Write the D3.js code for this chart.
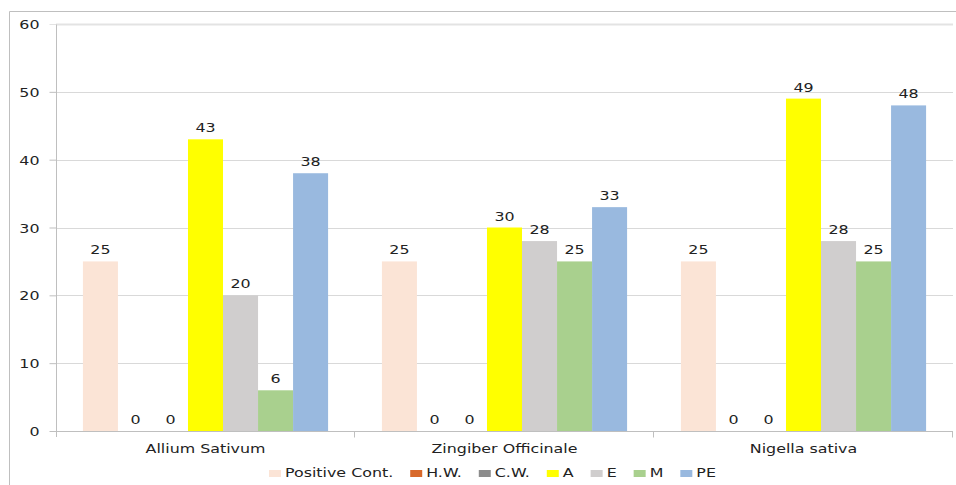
<!DOCTYPE html>
<html>
<head>
<meta charset="utf-8">
<script src="https://cdn.jsdelivr.net/npm/d3@7"></script>
<style>
  body { margin: 0; background: #fff; }
  svg { display: block; font-family: 'DejaVu Sans', Verdana, sans-serif; }
</style>
</head>
<body>
<svg id="chart" width="956" height="485"></svg>
<script>
// chart data
const categories = ['Allium Sativum', 'Zingiber Officinale', 'Nigella sativa'];
const seriesNames = ['Positive Cont.', 'H.W.', 'C.W.', 'A', 'E', 'M', 'PE'];
const seriesColors = ['#fbe4d6', '#d8692b', '#8c8c8c', '#ffff00', '#d0cece', '#a9d08e', '#99b9df'];
const values = [
  [25, 0, 0, 43, 20, 6, 38],  // Allium Sativum
  [25, 0, 0, 30, 28, 25, 33], // Zingiber Officinale
  [25, 0, 0, 49, 28, 25, 48]  // Nigella sativa
];
const yTicks = [0, 10, 20, 30, 40, 50, 60];

const width = 956;
const height = 485;
const margin = { top: 24, right: 3, bottom: 54, left: 56 };
const fontSize = 12.5;
const stretchX = 1.27; // the original picture is horizontally stretched

const svg = d3.select('#chart');

// turn x/y text placement into a translate + horizontal stretch
function stretchText() {
  const t = d3.select(this);
  const x = +t.attr('x') || 0;
  const y = +t.attr('y') || 0;
  t.attr('x', null).attr('y', null)
    .attr('transform', `translate(${x},${y}) scale(${stretchX},1)`);
}

// outer chart frame (top + left edges visible)
svg.append('path')
  .attr('d', `M9.5,${height} V11.5 H${width}`)
  .attr('fill', 'none')
  .attr('stroke', '#bfbfbf')
  .attr('stroke-width', 1);

const x0 = d3.scaleBand()
  .domain(categories)
  .range([margin.left, width - margin.right]);

const groupPad = x0.bandwidth() * 0.09;
const x1 = d3.scaleBand()
  .domain(seriesNames)
  .range([groupPad, x0.bandwidth() - groupPad]);

const y = d3.scaleLinear()
  .domain([0, 60])
  .range([height - margin.bottom, margin.top]);

const color = d3.scaleOrdinal(seriesNames, seriesColors);

// gridlines
svg.append('g')
  .attr('class', 'grid')
  .selectAll('line')
  .data(yTicks.filter((t) => t > 0))
  .join('line')
  .attr('x1', margin.left)
  .attr('x2', width - margin.right)
  .attr('y1', (d) => Math.round(y(d)) + 0.5)
  .attr('y2', (d) => Math.round(y(d)) + 0.5)
  .attr('stroke', (d) => (d === 60 ? '#e3e3e3' : '#d9d9d9'))
  .attr('stroke-width', (d) => (d === 60 ? 2 : 1));

// y axis
const yAxis = svg.append('g')
  .attr('transform', `translate(${margin.left + 0.5},0)`)
  .call(d3.axisLeft(y).tickValues(yTicks).tickSize(7).tickPadding(9));
yAxis.select('.domain').attr('stroke', '#bfbfbf').attr('d', `M0,${y(60)}V${y(0) + 6}`);
yAxis.selectAll('.tick line').attr('stroke', '#bfbfbf');
yAxis.selectAll('.tick').filter((d) => d === 60).select('line').attr('stroke', '#e3e3e3');
yAxis.selectAll('.tick text')
  .attr('fill', '#222')
  .attr('font-size', fontSize)
  .attr('font-family', 'DejaVu Sans, Verdana, sans-serif')
  .attr('x', -17)
  .attr('dy', null)
  .attr('y', 4.5)
  .each(stretchText);

// bars
const groups = svg.append('g')
  .attr('class', 'bars')
  .selectAll('g')
  .data(categories)
  .join('g')
  .attr('transform', (d) => `translate(${x0(d)},0)`);

groups.selectAll('rect')
  .data((d, i) => values[i].map((v, j) => ({ key: seriesNames[j], value: v })))
  .join('rect')
  .attr('x', (d) => x1(d.key))
  .attr('width', x1.bandwidth())
  .attr('y', (d) => y(d.value))
  .attr('height', (d) => y(0) - y(d.value))
  .attr('fill', (d) => color(d.key));

// value labels
groups.selectAll('text')
  .data((d, i) => values[i].map((v, j) => ({ key: seriesNames[j], value: v })))
  .join('text')
  .attr('x', (d) => x1(d.key) + x1.bandwidth() / 2)
  .attr('y', (d) => y(d.value) - 7)
  .attr('text-anchor', 'middle')
  .attr('font-size', fontSize)
  .attr('fill', '#222')
  .text((d) => d.value)
  .each(stretchText);

// x axis
const xAxisY = Math.round(y(0)) + 0.5;
const xAxis = svg.append('g').attr('class', 'x-axis');
xAxis.append('line')
  .attr('x1', margin.left)
  .attr('x2', width - margin.right)
  .attr('y1', xAxisY)
  .attr('y2', xAxisY)
  .attr('stroke', '#bfbfbf');
xAxis.selectAll('.sep')
  .data(categories.slice(1).concat(['end']))
  .join('line')
  .attr('class', 'sep')
  .attr('x1', (d) => Math.round(d === 'end' ? width - margin.right : x0(d)) - 0.5)
  .attr('x2', (d) => Math.round(d === 'end' ? width - margin.right : x0(d)) - 0.5)
  .attr('y1', xAxisY)
  .attr('y2', xAxisY + 6)
  .attr('stroke', '#bfbfbf');
xAxis.selectAll('text')
  .data(categories)
  .join('text')
  .attr('x', (d) => x0(d) + x0.bandwidth() / 2)
  .attr('y', xAxisY + 21)
  .attr('text-anchor', 'middle')
  .attr('font-size', fontSize)
  .attr('fill', '#222')
  .text((d) => d)
  .each(stretchText);

// legend
const legend = svg.append('g').attr('class', 'legend');
const legendItems = legend.selectAll('g')
  .data(seriesNames)
  .join('g');
legendItems.append('rect')
  .attr('width', 12)
  .attr('height', 7)
  .attr('y', -7)
  .attr('fill', (d) => color(d));
legendItems.append('text')
  .attr('x', 16)
  .attr('y', 0)
  .attr('font-size', fontSize)
  .attr('fill', '#222')
  .text((d) => d)
  .each(stretchText);

let cursor = 0;
legendItems.each(function () {
  const g = d3.select(this);
  g.attr('transform', `translate(${cursor},0)`);
  cursor += 16 + g.select('text').node().getComputedTextLength() * stretchX + 17;
});
const legendWidth = cursor - 17;
legend.attr('transform', `translate(${Math.round(492 - legendWidth / 2)},${477})`);
</script>
</body>
</html>
